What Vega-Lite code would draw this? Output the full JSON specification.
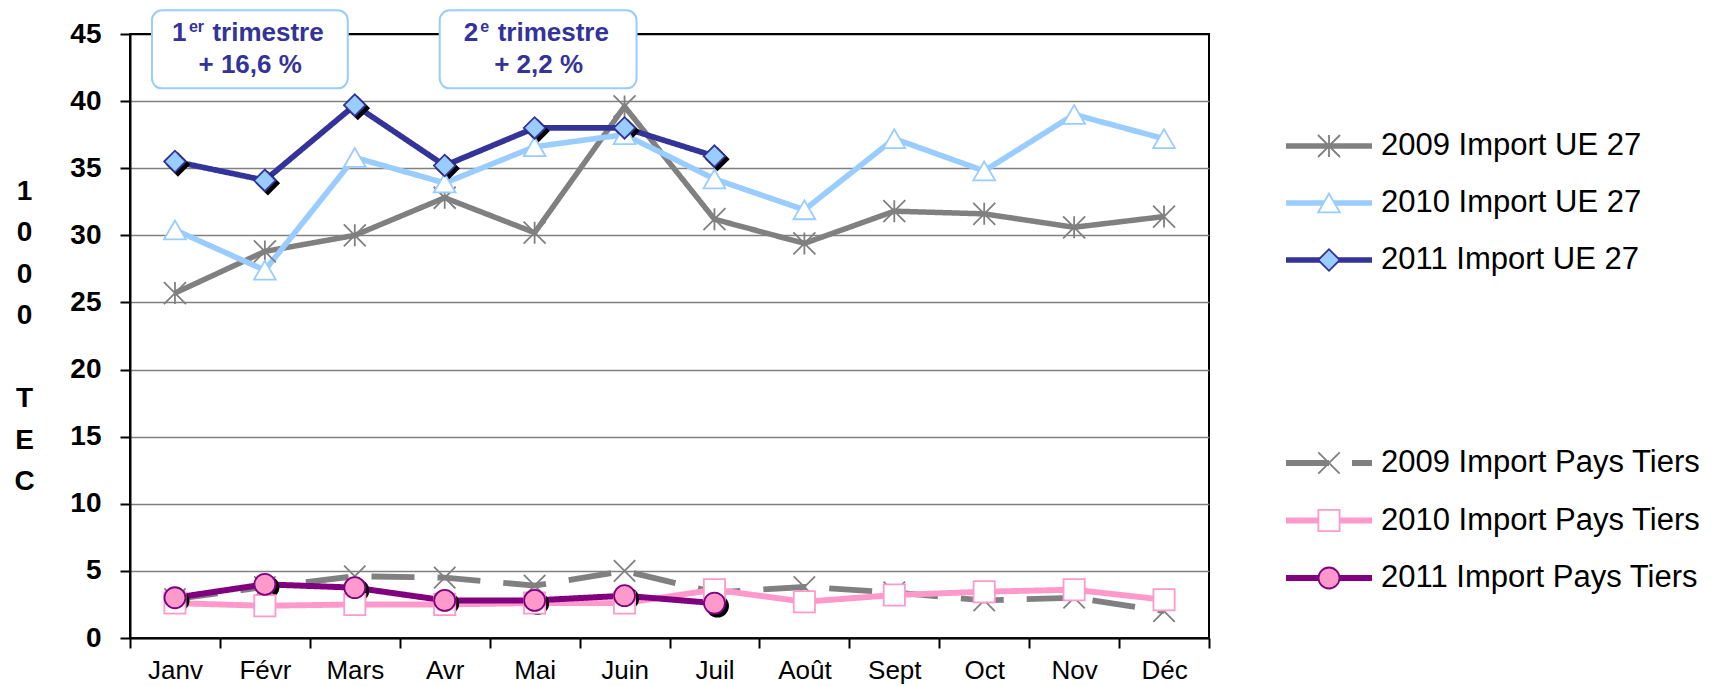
{
  "$schema": "https://vega.github.io/schema/vega-lite/v6.json",
  "background": "white",
  "padding": {"left": 12, "top": 8, "right": 0, "bottom": 0},
  "bounds": "flush",
  "spacing": 77,
  "config": {"font": "Liberation Sans", "view": {"stroke": null}},
  "datasets": {
    "monthly": [
      {"m": "Janv", "s": "2009 Import UE 27", "v": 25.7},
      {"m": "Févr", "s": "2009 Import UE 27", "v": 28.8},
      {"m": "Mars", "s": "2009 Import UE 27", "v": 30.0},
      {"m": "Avr", "s": "2009 Import UE 27", "v": 32.8},
      {"m": "Mai", "s": "2009 Import UE 27", "v": 30.2},
      {"m": "Juin", "s": "2009 Import UE 27", "v": 39.6},
      {"m": "Juil", "s": "2009 Import UE 27", "v": 31.2},
      {"m": "Août", "s": "2009 Import UE 27", "v": 29.4},
      {"m": "Sept", "s": "2009 Import UE 27", "v": 31.8},
      {"m": "Oct", "s": "2009 Import UE 27", "v": 31.6},
      {"m": "Nov", "s": "2009 Import UE 27", "v": 30.6},
      {"m": "Déc", "s": "2009 Import UE 27", "v": 31.4},
      {"m": "Janv", "s": "2010 Import UE 27", "v": 30.4},
      {"m": "Févr", "s": "2010 Import UE 27", "v": 27.4},
      {"m": "Mars", "s": "2010 Import UE 27", "v": 35.8},
      {"m": "Avr", "s": "2010 Import UE 27", "v": 33.9},
      {"m": "Mai", "s": "2010 Import UE 27", "v": 36.6},
      {"m": "Juin", "s": "2010 Import UE 27", "v": 37.5},
      {"m": "Juil", "s": "2010 Import UE 27", "v": 34.2},
      {"m": "Août", "s": "2010 Import UE 27", "v": 31.9},
      {"m": "Sept", "s": "2010 Import UE 27", "v": 37.2},
      {"m": "Oct", "s": "2010 Import UE 27", "v": 34.8},
      {"m": "Nov", "s": "2010 Import UE 27", "v": 39.0},
      {"m": "Déc", "s": "2010 Import UE 27", "v": 37.2},
      {"m": "Janv", "s": "2011 Import UE 27", "v": 35.5},
      {"m": "Févr", "s": "2011 Import UE 27", "v": 34.1},
      {"m": "Mars", "s": "2011 Import UE 27", "v": 39.7},
      {"m": "Avr", "s": "2011 Import UE 27", "v": 35.2},
      {"m": "Mai", "s": "2011 Import UE 27", "v": 38.0},
      {"m": "Juin", "s": "2011 Import UE 27", "v": 38.0},
      {"m": "Juil", "s": "2011 Import UE 27", "v": 35.9},
      {"m": "Janv", "s": "2009 Import Pays Tiers", "v": 2.9},
      {"m": "Févr", "s": "2009 Import Pays Tiers", "v": 3.8},
      {"m": "Mars", "s": "2009 Import Pays Tiers", "v": 4.6},
      {"m": "Avr", "s": "2009 Import Pays Tiers", "v": 4.5},
      {"m": "Mai", "s": "2009 Import Pays Tiers", "v": 3.9},
      {"m": "Juin", "s": "2009 Import Pays Tiers", "v": 5.0},
      {"m": "Juil", "s": "2009 Import Pays Tiers", "v": 3.4},
      {"m": "Août", "s": "2009 Import Pays Tiers", "v": 3.8},
      {"m": "Sept", "s": "2009 Import Pays Tiers", "v": 3.4},
      {"m": "Oct", "s": "2009 Import Pays Tiers", "v": 2.8},
      {"m": "Nov", "s": "2009 Import Pays Tiers", "v": 3.0},
      {"m": "Déc", "s": "2009 Import Pays Tiers", "v": 2.0},
      {"m": "Janv", "s": "2010 Import Pays Tiers", "v": 2.6},
      {"m": "Févr", "s": "2010 Import Pays Tiers", "v": 2.4},
      {"m": "Mars", "s": "2010 Import Pays Tiers", "v": 2.5},
      {"m": "Avr", "s": "2010 Import Pays Tiers", "v": 2.5},
      {"m": "Mai", "s": "2010 Import Pays Tiers", "v": 2.6},
      {"m": "Juin", "s": "2010 Import Pays Tiers", "v": 2.6},
      {"m": "Juil", "s": "2010 Import Pays Tiers", "v": 3.6},
      {"m": "Août", "s": "2010 Import Pays Tiers", "v": 2.7},
      {"m": "Sept", "s": "2010 Import Pays Tiers", "v": 3.2},
      {"m": "Oct", "s": "2010 Import Pays Tiers", "v": 3.45},
      {"m": "Nov", "s": "2010 Import Pays Tiers", "v": 3.6},
      {"m": "Déc", "s": "2010 Import Pays Tiers", "v": 2.85},
      {"m": "Janv", "s": "2011 Import Pays Tiers", "v": 3.0},
      {"m": "Févr", "s": "2011 Import Pays Tiers", "v": 4.0},
      {"m": "Mars", "s": "2011 Import Pays Tiers", "v": 3.75},
      {"m": "Avr", "s": "2011 Import Pays Tiers", "v": 2.8},
      {"m": "Mai", "s": "2011 Import Pays Tiers", "v": 2.8},
      {"m": "Juin", "s": "2011 Import Pays Tiers", "v": 3.15},
      {"m": "Juil", "s": "2011 Import Pays Tiers", "v": 2.6}
    ],
    "notes": [
      {"q": "1", "m": "Févr", "a": "Janv", "b": "Mars", "v": 45, "top": 46.77, "bot": 40.95, "n": "1", "sup": "er", "t": "trimestre", "pct": "+ 16,6 %"},
      {"q": "2", "m": "Mai", "a": "Avr", "b": "Juin", "v": 45, "top": 46.77, "bot": 40.95, "n": "2", "sup": "e", "t": "trimestre", "pct": "+ 2,2 %"}
    ],
    "entries": [
      {"s": "2009 Import UE 27", "g": "UE"},
      {"s": "2010 Import UE 27", "g": "UE"},
      {"s": "2011 Import UE 27", "g": "UE"},
      {"s": "2009 Import Pays Tiers", "g": "PT"},
      {"s": "2010 Import Pays Tiers", "g": "PT"},
      {"s": "2011 Import Pays Tiers", "g": "PT"}
    ]
  },
  "hconcat": [
    {
      "width": 1079,
      "height": 604,
      "view": {"stroke": "black", "strokeWidth": 2},
      "data": {"name": "monthly"},
      "encoding": {
        "x": {
          "field": "m", "type": "nominal",
          "scale": {"domain": ["Janv","Févr","Mars","Avr","Mai","Juin","Juil","Août","Sept","Oct","Nov","Déc"], "paddingInner": 0, "paddingOuter": 0},
          "axis": {"title": null, "labelAngle": 0, "labelFontSize": 26, "labelColor": "black", "labelPadding": 9, "tickBand": "extent", "tickSize": 10, "tickColor": "black", "tickWidth": 2, "domainColor": "black", "domainWidth": 2, "grid": false}
        },
        "y": {
          "field": "v", "type": "quantitative",
          "scale": {"domain": [0, 45], "nice": false, "zero": true},
          "axis": {
            "values": [0, 5, 10, 15, 20, 25, 30, 35, 40, 45],
            "title": ["1", "0", "0", "0", "\u2800", "T", "E", "C"],
            "titleAngle": 0, "titleAlign": "center", "titleBaseline": "middle",
            "titleX": -106, "titleY": 157,
            "titleFontSize": 28, "titleFontWeight": "bold", "titleColor": "black", "titleLineHeight": 41.5,
            "labelFontSize": 28, "labelFontWeight": "bold", "labelColor": "black", "labelPadding": 19, "labelFlush": false, "labelOverlap": false,
            "tickSize": 10, "tickColor": "black", "tickWidth": 2,
            "domainColor": "black", "domainWidth": 2,
            "grid": true, "gridWidth": 1.5,
            "gridColor": {"condition": {"test": "datum.value === 45", "value": "black"}, "value": "#808080"}
          }
        }
      },
      "layer": [
        {
          "mark": {"type": "line"},
          "encoding": {
            "order": {"value": null},
            "stroke": {"field": "s", "type": "nominal", "legend": null,
              "scale": {"domain": ["2009 Import UE 27","2010 Import UE 27","2011 Import UE 27","2009 Import Pays Tiers","2010 Import Pays Tiers","2011 Import Pays Tiers"],
                        "range": ["#808080","#99CCFF","#333399","#808080","#FF99CC","#800080"]}},
            "strokeWidth": {"field": "s", "type": "nominal", "legend": null,
              "scale": {"domain": ["2009 Import UE 27","2010 Import UE 27","2011 Import UE 27","2009 Import Pays Tiers","2010 Import Pays Tiers","2011 Import Pays Tiers"],
                        "range": [5.5, 6, 5, 5.5, 5, 5]}},
            "strokeDash": {"field": "s", "type": "nominal", "legend": null,
              "scale": {"domain": ["2009 Import UE 27","2010 Import UE 27","2011 Import UE 27","2009 Import Pays Tiers","2010 Import Pays Tiers","2011 Import Pays Tiers"],
                        "range": [[1,0],[1,0],[1,0],[43,23],[1,0],[1,0]]}}
          }
        },
        {
          "transform": [{"filter": "indexof(datum.s, '2011') === 0"}],
          "mark": {"type": "point", "filled": true, "color": "black", "stroke": "black", "opacity": 1, "xOffset": 3, "yOffset": 3},
          "encoding": {
            "shape": {"field": "s", "type": "nominal", "legend": null,
              "scale": {"domain": ["2009 Import UE 27","2010 Import UE 27","2011 Import UE 27","2009 Import Pays Tiers","2010 Import Pays Tiers","2011 Import Pays Tiers"],
                        "range": ["M-1,-1L1,1M-1,1L1,-1M0,-1L0,1","triangle-up","diamond","M-1,-1L1,1M-1,1L1,-1","square","circle"]}},
            "size": {"field": "s", "type": "nominal", "legend": null,
              "scale": {"domain": ["2009 Import UE 27","2010 Import UE 27","2011 Import UE 27","2009 Import Pays Tiers","2010 Import Pays Tiers","2011 Import Pays Tiers"],
                        "range": [484, 441, 441, 441, 361, 400]}}
          }
        },
        {
          "mark": {"type": "point", "filled": true, "opacity": 1, "strokeWidth": 1.8},
          "encoding": {
            "shape": {"field": "s", "type": "nominal", "legend": null},
            "size": {"field": "s", "type": "nominal", "legend": null},
            "stroke": {"field": "s", "type": "nominal", "legend": null},
            "fill": {"field": "s", "type": "nominal", "legend": null,
              "scale": {"domain": ["2009 Import UE 27","2010 Import UE 27","2011 Import UE 27","2009 Import Pays Tiers","2010 Import Pays Tiers","2011 Import Pays Tiers"],
                        "range": ["transparent","#FFFFFF","#99CCFF","transparent","#FFFFFF","#FF99CC"]}}
          }
        },
        {
          "data": {"name": "notes"},
          "transform": [{"filter": "datum.q === '1'"}],
          "mark": {"type": "rect", "fill": "white", "stroke": "#99CCFF", "strokeWidth": 2, "cornerRadius": 10, "xOffset": -23, "x2Offset": -7},
          "encoding": {"x": {"field": "a", "type": "nominal"}, "x2": {"field": "b"}, "y": {"field": "top", "type": "quantitative"}, "y2": {"field": "bot"}}
        },
        {
          "data": {"name": "notes"},
          "transform": [{"filter": "datum.q === '2'"}],
          "mark": {"type": "rect", "fill": "white", "stroke": "#99CCFF", "strokeWidth": 2, "cornerRadius": 10, "xOffset": -5, "x2Offset": 12},
          "encoding": {"x": {"field": "a", "type": "nominal"}, "x2": {"field": "b"}, "y": {"field": "top", "type": "quantitative"}, "y2": {"field": "bot"}}
        },
        {
          "data": {"name": "notes"},
          "transform": [{"filter": "datum.q === '1'"}],
          "layer": [
            {"mark": {"type": "text", "fontSize": 26, "fontWeight": "bold", "color": "#333399", "align": "left", "baseline": "alphabetic", "dx": -93, "dy": 6.7},
             "encoding": {"text": {"field": "n"}}},
            {"mark": {"type": "text", "fontSize": 16, "fontWeight": "bold", "color": "#333399", "align": "left", "baseline": "alphabetic", "dx": -76, "dy": -1.7},
             "encoding": {"text": {"field": "sup"}}},
            {"mark": {"type": "text", "fontSize": 26, "fontWeight": "bold", "color": "#333399", "align": "left", "baseline": "alphabetic", "dx": -52.5, "dy": 6.7},
             "encoding": {"text": {"field": "t"}}},
            {"mark": {"type": "text", "fontSize": 26, "fontWeight": "bold", "color": "#333399", "align": "center", "baseline": "alphabetic", "dx": -14.7, "dy": 39},
             "encoding": {"text": {"field": "pct"}}}
          ]
        },
        {
          "data": {"name": "notes"},
          "transform": [{"filter": "datum.q === '2'"}],
          "layer": [
            {"mark": {"type": "text", "fontSize": 26, "fontWeight": "bold", "color": "#333399", "align": "left", "baseline": "alphabetic", "dx": -71, "dy": 6.7},
             "encoding": {"text": {"field": "n"}}},
            {"mark": {"type": "text", "fontSize": 16, "fontWeight": "bold", "color": "#333399", "align": "left", "baseline": "alphabetic", "dx": -54.5, "dy": -1.7},
             "encoding": {"text": {"field": "sup"}}},
            {"mark": {"type": "text", "fontSize": 26, "fontWeight": "bold", "color": "#333399", "align": "left", "baseline": "alphabetic", "dx": -37, "dy": 6.7},
             "encoding": {"text": {"field": "t"}}},
            {"mark": {"type": "text", "fontSize": 26, "fontWeight": "bold", "color": "#333399", "align": "center", "baseline": "alphabetic", "dx": 4, "dy": 39},
             "encoding": {"text": {"field": "pct"}}}
          ]
        }
      ]
    },
    {
      "width": 86,
      "height": 604,
      "data": {"name": "entries"},
      "layer": [
        {
          "transform": [{"filter": "datum.g === 'UE'"}],
          "encoding": {
            "y": {"field": "s", "type": "nominal", "sort": null, "axis": null,
              "scale": {"type": "point", "domain": ["2009 Import UE 27","2010 Import UE 27","2011 Import UE 27"], "padding": 0, "range": [112, 226]}}
          },
          "layer": [
            {
              "mark": {"type": "rule"},
              "encoding": {
                "x": {"datum": 0, "type": "quantitative", "scale": {"domain": [0, 1], "nice": false, "zero": false}, "axis": null},
                "x2": {"datum": 1},
                "stroke": {"field": "s", "type": "nominal", "legend": null,
                  "scale": {"domain": ["2009 Import UE 27","2010 Import UE 27","2011 Import UE 27","2009 Import Pays Tiers","2010 Import Pays Tiers","2011 Import Pays Tiers"],
                            "range": ["#808080","#99CCFF","#333399","#808080","#FF99CC","#800080"]}},
                "strokeWidth": {"field": "s", "type": "nominal", "legend": null,
                  "scale": {"domain": ["2009 Import UE 27","2010 Import UE 27","2011 Import UE 27","2009 Import Pays Tiers","2010 Import Pays Tiers","2011 Import Pays Tiers"],
                            "range": [6, 6, 6, 6, 6, 6]}},
                "strokeDash": {"field": "s", "type": "nominal", "legend": null,
                  "scale": {"domain": ["2009 Import UE 27","2010 Import UE 27","2011 Import UE 27","2009 Import Pays Tiers","2010 Import Pays Tiers","2011 Import Pays Tiers"],
                            "range": [[1,0],[1,0],[1,0],[43,23],[1,0],[1,0]]}}
              }
            },
            {
              "mark": {"type": "point", "filled": true, "opacity": 1, "strokeWidth": 1.8},
              "encoding": {
                "x": {"datum": 0.5, "type": "quantitative", "axis": null},
                "shape": {"field": "s", "type": "nominal", "legend": null,
                  "scale": {"domain": ["2009 Import UE 27","2010 Import UE 27","2011 Import UE 27","2009 Import Pays Tiers","2010 Import Pays Tiers","2011 Import Pays Tiers"],
                            "range": ["M-1,-1L1,1M-1,1L1,-1M0,-1L0,1","triangle-up","diamond","M-1,-1L1,1M-1,1L1,-1","square","circle"]}},
                "size": {"field": "s", "type": "nominal", "legend": null,
                  "scale": {"domain": ["2009 Import UE 27","2010 Import UE 27","2011 Import UE 27","2009 Import Pays Tiers","2010 Import Pays Tiers","2011 Import Pays Tiers"],
                            "range": [484, 441, 441, 441, 361, 400]}},
                "stroke": {"field": "s", "type": "nominal", "legend": null},
                "fill": {"field": "s", "type": "nominal", "legend": null,
                  "scale": {"domain": ["2009 Import UE 27","2010 Import UE 27","2011 Import UE 27","2009 Import Pays Tiers","2010 Import Pays Tiers","2011 Import Pays Tiers"],
                            "range": ["transparent","#FFFFFF","#99CCFF","transparent","#FFFFFF","#FF99CC"]}}
              }
            },
            {
              "mark": {"type": "text", "align": "left", "baseline": "middle", "fontSize": 31, "color": "black", "dx": 9},
              "encoding": {
                "x": {"datum": 1, "type": "quantitative", "axis": null},
                "text": {"field": "s", "type": "nominal"}
              }
            }
          ]
        },
        {
          "transform": [{"filter": "datum.g === 'PT'"}],
          "encoding": {
            "y": {"field": "s", "type": "nominal", "sort": null, "axis": null,
              "scale": {"type": "point", "domain": ["2009 Import Pays Tiers","2010 Import Pays Tiers","2011 Import Pays Tiers"], "padding": 0, "range": [429, 544]}}
          },
          "layer": [
            {
              "mark": {"type": "rule"},
              "encoding": {
                "x": {"datum": 0, "type": "quantitative", "axis": null},
                "x2": {"datum": 1},
                "stroke": {"field": "s", "type": "nominal", "legend": null},
                "strokeWidth": {"field": "s", "type": "nominal", "legend": null},
                "strokeDash": {"field": "s", "type": "nominal", "legend": null}
              }
            },
            {
              "mark": {"type": "point", "filled": true, "opacity": 1, "strokeWidth": 1.8},
              "encoding": {
                "x": {"datum": 0.5, "type": "quantitative", "axis": null},
                "shape": {"field": "s", "type": "nominal", "legend": null},
                "size": {"field": "s", "type": "nominal", "legend": null},
                "stroke": {"field": "s", "type": "nominal", "legend": null},
                "fill": {"field": "s", "type": "nominal", "legend": null}
              }
            },
            {
              "mark": {"type": "text", "align": "left", "baseline": "middle", "fontSize": 31, "color": "black", "dx": 9},
              "encoding": {
                "x": {"datum": 1, "type": "quantitative", "axis": null},
                "text": {"field": "s", "type": "nominal"}
              }
            }
          ]
        }
      ],
      "resolve": {"scale": {"y": "independent"}}
    }
  ]
}
